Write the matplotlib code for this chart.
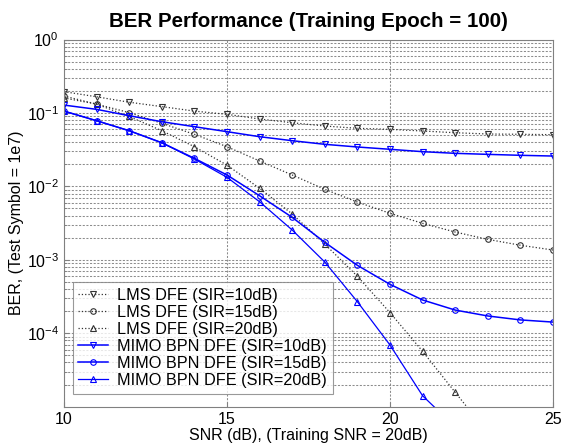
import numpy as np
import matplotlib
matplotlib.use("Agg")
import matplotlib.pyplot as plt

plt.rcParams['font.family'] = ['Liberation Sans', 'DejaVu Sans']
plt.rcParams['mathtext.fontset'] = 'custom'
plt.rcParams['mathtext.rm'] = 'Liberation Sans'

snr = np.arange(10, 26)

lmsSir10 = [0.195, 0.166, 0.140, 0.122, 0.106, 0.0958, 0.0827, 0.0736,
            0.0664, 0.0618, 0.0598, 0.0568, 0.0538, 0.0517, 0.0512, 0.0506]
lmsSir15 = [0.170, 0.132, 0.101, 0.0723, 0.0512, 0.0347, 0.0222, 0.0143,
            0.00912, 0.00612, 0.00430, 0.00314, 0.00239, 0.00190, 0.00158, 0.00136]
lmsSir20 = [0.160, 0.132, 0.0895, 0.0573, 0.0347, 0.0195, 0.00942, 0.00421,
            0.00164, 0.000597, 0.000191, 0.0000568, 0.0000157, 0.0000044]
mimoSir10 = [0.128, 0.112, 0.0917, 0.0760, 0.0650, 0.0556, 0.0475, 0.0419,
             0.0374, 0.0344, 0.0320, 0.0297, 0.0282, 0.0273, 0.0265, 0.0259]
mimoSir15 = [0.106, 0.0784, 0.0573, 0.0393, 0.0241, 0.0143, 0.00746, 0.00379,
             0.00173, 0.000842, 0.000464, 0.000284, 0.000207, 0.000172, 0.000152, 0.000142]
mimoSir20 = [0.106, 0.0784, 0.0573, 0.0393, 0.0236, 0.0133, 0.00618, 0.00255,
             0.000934, 0.000269, 0.0000692, 0.0000141, 0.0000053]

labels = ["LMS DFE (SIR=10dB)", "LMS DFE (SIR=15dB)", "LMS DFE (SIR=20dB)",
          "MIMO BPN DFE (SIR=10dB)", "MIMO BPN DFE (SIR=15dB)", "MIMO BPN DFE (SIR=20dB)"]

axesColour = '#808080'
gridColour = '#8c8c8c'
lmsColour = '#333333'
mimoColour = (0, 0, 1)

fig = plt.figure(figsize=(5.66, 4.44), dpi=100)
ax = fig.add_axes([0.113, 0.084, 0.864, 0.827])

series = [lmsSir10, lmsSir15, lmsSir20, mimoSir10, mimoSir15, mimoSir20]
markers = ['v', 'o', '^', 'v', 'o', '^']
for i, values in enumerate(series):
    x = snr[:len(values)]
    if i < 3:
        ax.semilogy(x, values, color=lmsColour, linestyle=':', linewidth=0.9,
                    marker=markers[i], markersize=4, markerfacecolor='none',
                    markeredgewidth=0.8, label=labels[i])
    else:
        ax.semilogy(x, values, color=mimoColour, linestyle='-',
                    linewidth=1.1 if i < 5 else 0.9,
                    marker=markers[i], markersize=4, markerfacecolor='none',
                    markeredgewidth=0.8, label=labels[i])

ax.set_xlim(10, 25)
ax.set_ylim(1e-5, 1)
ax.set_xticks([10, 15, 20, 25])
ax.set_yticks([1, 1e-1, 1e-2, 1e-3, 1e-4])
ax.grid(True, which='major', color=gridColour, linestyle=(0, (2, 1.5)), linewidth=0.75)
ax.grid(True, which='minor', axis='y', color=gridColour, linestyle=(0, (2, 1.5)), linewidth=0.75)
ax.tick_params(which='both', direction='in', color=axesColour, labelsize=11.5,
               labelcolor='black')
ax.tick_params(which='minor', length=2)
ax.spines[:].set_color(axesColour)

ax.set_title("BER Performance (Training Epoch = 100)", fontsize=14.8,
             fontweight='bold', pad=9)
ax.set_xlabel("SNR (dB), (Training SNR = 20dB)", fontsize=11.5, labelpad=1)
ax.set_ylabel("BER, (Test Symbol = 1e7)", fontsize=11.5, labelpad=2)

leg = ax.legend(loc='lower left', bbox_to_anchor=(0.018, 0.035), fontsize=11.7,
                frameon=True, fancybox=False, borderaxespad=0,
                handlelength=1.8, labelspacing=0.13, borderpad=0.35,
                handletextpad=0.6)
leg.get_frame().set_edgecolor(axesColour)
leg.get_frame().set_linewidth(0.8)

plt.savefig("out.png", dpi=100)
